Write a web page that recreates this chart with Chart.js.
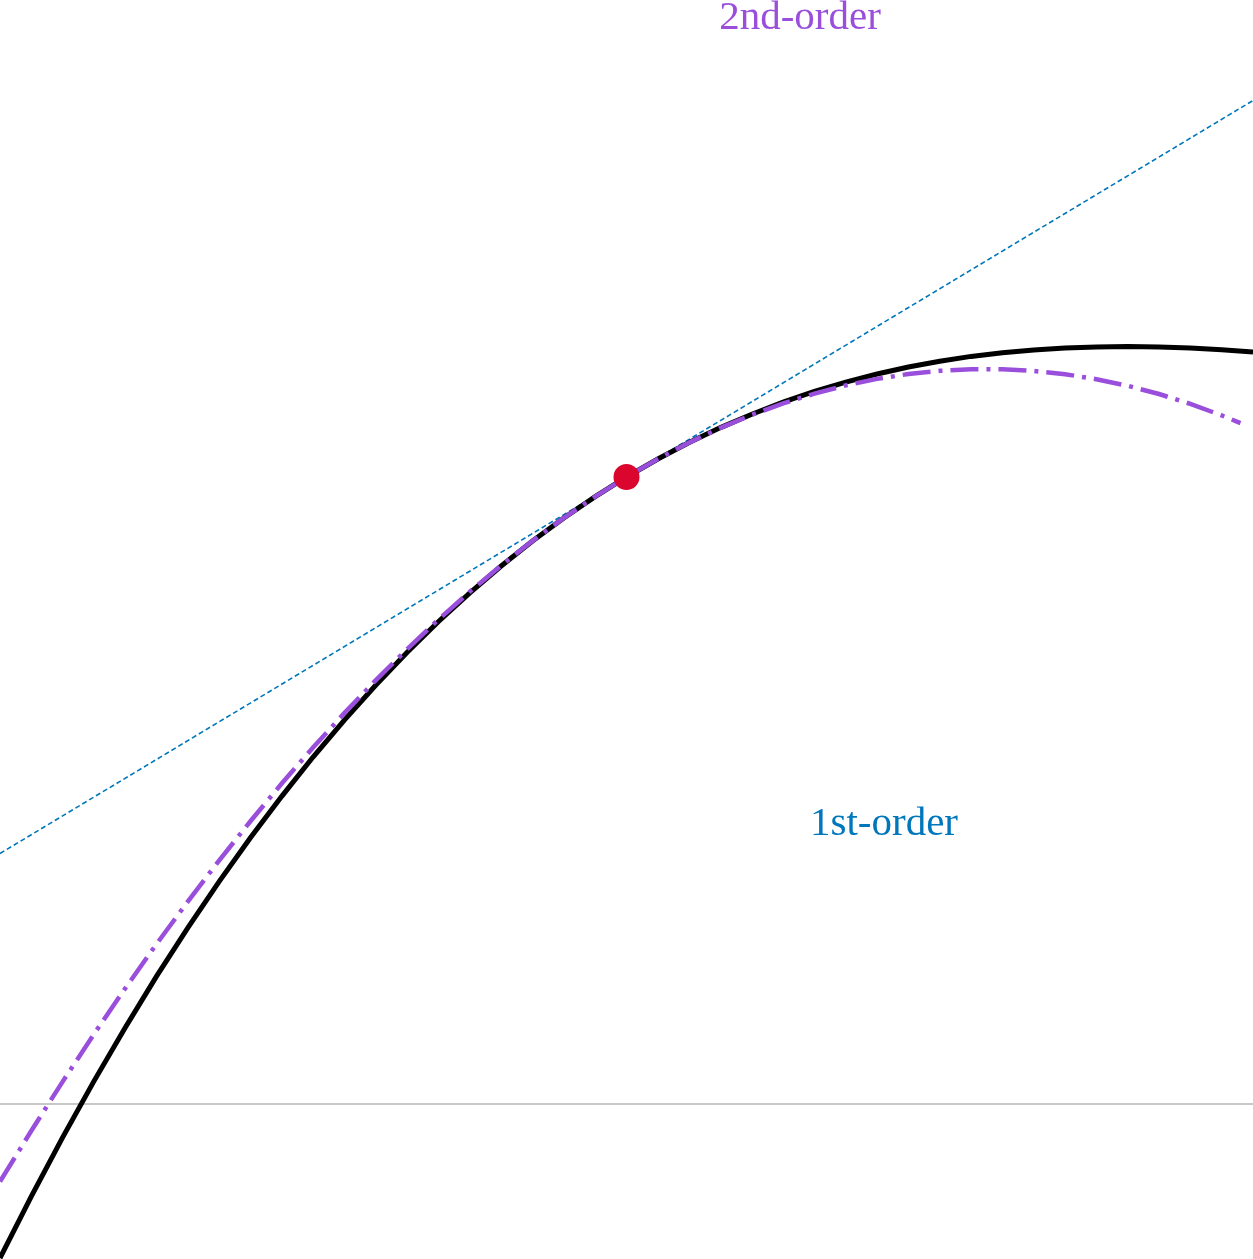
<!DOCTYPE html>
<html>
<head>
<meta charset="utf-8">
<title>Taylor approximations</title>
<script src="https://cdn.jsdelivr.net/npm/chart.js@4.4.1/dist/chart.umd.min.js"></script>
<style>
  html, body { margin: 0; padding: 0; background: #ffffff; }
  #wrap { width: 1253px; height: 1259px; position: relative; }
</style>
</head>
<body>
<div id="wrap"><canvas id="myChart"></canvas></div>
<script>
const ctx = document.querySelector('#myChart');

// sample positions along x
const xValues = [-1, -0.95, -0.9, -0.85, -0.8, -0.75, -0.7, -0.65, -0.6, -0.55,
  -0.5, -0.45, -0.4, -0.35, -0.3, -0.25, -0.2, -0.15, -0.1, -0.05,
  0, 0.05, 0.1, 0.15, 0.2, 0.25, 0.3, 0.35, 0.4, 0.45,
  0.5, 0.55, 0.6, 0.65, 0.7, 0.75, 0.8, 0.85, 0.9, 0.95, 1]

// the function itself (black curve)
const functionValues = [-0.1541, -0.0924, -0.0334, 0.0229, 0.0766, 0.1278, 0.1764, 0.2226, 0.2665, 0.3079,
  0.3472, 0.3842, 0.4190, 0.4518, 0.4825, 0.5112, 0.5380, 0.5629, 0.5860, 0.6073,
  0.6270, 0.6450, 0.6614, 0.6764, 0.6898, 0.7018, 0.7125, 0.7219, 0.7300, 0.7370,
  0.7428, 0.7476, 0.7513, 0.7541, 0.7560, 0.7571, 0.7574, 0.7570, 0.7559, 0.7542, 0.7519]

// 2nd-order approximation (purple dash-dot), stops a little before the right edge
const secondOrderX = [...xValues.slice(0, 40), 0.98]
const secondOrderValues = [-0.0776, -0.0268, 0.0224, 0.0699, 0.1158, 0.1601, 0.2027, 0.2437, 0.2830, 0.3207,
  0.3567, 0.3911, 0.4239, 0.4550, 0.4845, 0.5124, 0.5386, 0.5631, 0.5861, 0.6074,
  0.6270, 0.6450, 0.6614, 0.6761, 0.6892, 0.7006, 0.7104, 0.7186, 0.7251, 0.7300,
  0.7332, 0.7348, 0.7348, 0.7331, 0.7298, 0.7248, 0.7182, 0.7100, 0.7001, 0.6886, 0.6809]

// 1st-order approximation (tangent line)
const firstOrderX = [-1, 1]
const firstOrderValues = [0.2505, 1.0035]

// expansion point
const pointX = [0]
const pointY = [0.627]

// horizontal axis line y = 0
const zeroX = [-1, 1]
const zeroY = [0, 0]

const toPoints = (xs, ys) => xs.map((x, i) => ({ x: x, y: ys[i] }))

const labelPlugin = {
  id: 'orderLabels',
  afterDatasetsDraw(chart, args, opts) {
    const c = chart.ctx
    const xs = chart.scales.x
    const ys = chart.scales.y
    c.save()
    c.font = '41px "Liberation Serif", "Times New Roman", serif'
    c.textAlign = 'center'
    c.textBaseline = 'alphabetic'
    opts.items.forEach(item => {
      c.fillStyle = item.color
      c.fillText(item.text, xs.getPixelForValue(item.x), ys.getPixelForValue(item.y))
    })
    c.restore()
  }
}

const data = {
  datasets: [
    {
      label: 'expansion point',
      data: toPoints(pointX, pointY),
      pointRadius: 13,
      pointBackgroundColor: '#da062d',
      pointBorderWidth: 0,
      showLine: false,
      order: 0
    },
    {
      label: '2nd-order',
      data: toPoints(secondOrderX, secondOrderValues),
      borderColor: '#9a4fdc',
      borderWidth: 4.5,
      borderDash: [28, 8, 4, 8],
      pointRadius: 0,
      showLine: true,
      order: 1
    },
    {
      label: 'f(x)',
      data: toPoints(xValues, functionValues),
      borderColor: '#000000',
      borderWidth: 5,
      pointRadius: 0,
      showLine: true,
      order: 2
    },
    {
      label: '1st-order',
      data: toPoints(firstOrderX, firstOrderValues),
      borderColor: '#0077bb',
      borderWidth: 1.6,
      borderDash: [5, 3],
      pointRadius: 0,
      showLine: true,
      order: 3
    },
    {
      label: 'y = 0',
      data: toPoints(zeroX, zeroY),
      borderColor: '#c8c8c8',
      borderWidth: 2,
      pointRadius: 0,
      showLine: true,
      order: 4
    }
  ]
};

const config = {
  type: 'scatter',
  data: data,
  options: {
    responsive: true,
    maintainAspectRatio: false,
    animation: false,
    layout: { padding: 0, autoPadding: false },
    scales: {
      x: { type: 'linear', min: -1, max: 1, display: false },
      y: { type: 'linear', min: -0.155, max: 1.104, display: false }
    },
    plugins: {
      legend: { display: false },
      tooltip: { enabled: false },
      orderLabels: {
        items: [
          { text: '2nd-order', x: 0.277, y: 1.075, color: '#9a4fdc' },
          { text: '1st-order', x: 0.411, y: 0.269, color: '#0077bb' }
        ]
      }
    }
  },
  plugins: [labelPlugin]
};

const myChart = new Chart(ctx, config)
</script>
</body>
</html>
